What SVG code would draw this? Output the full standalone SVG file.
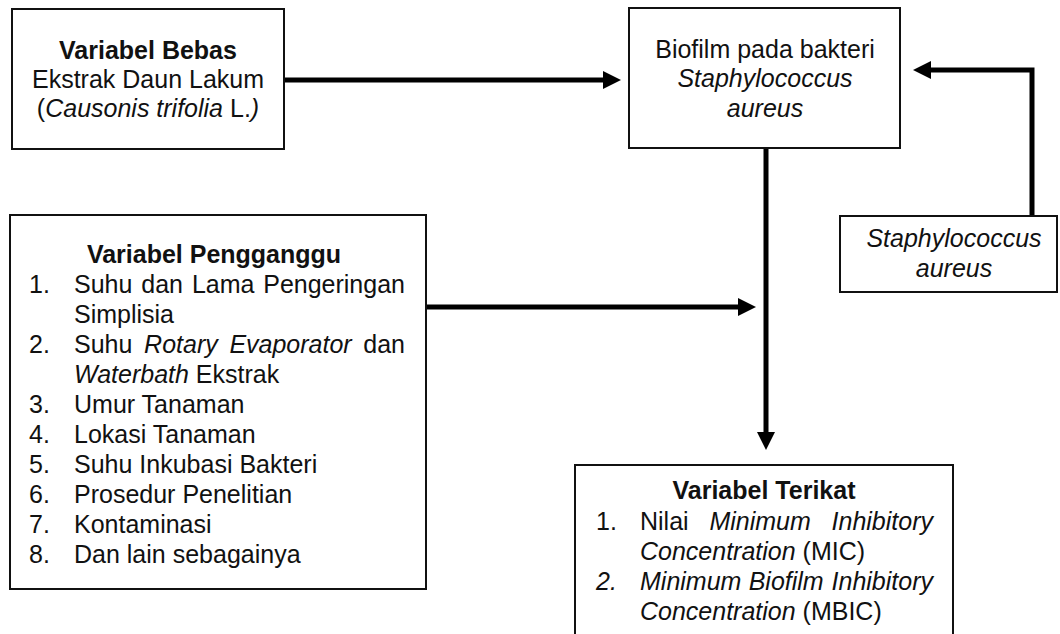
<svg xmlns="http://www.w3.org/2000/svg" width="1060" height="634" viewBox="0 0 1060 634">
<style>
  .box { fill: #fff; stroke: #111; stroke-width: 2; }
  text { font-family: "Liberation Sans", Arial, sans-serif; font-size: 25px; fill: #111; }
  .b { font-weight: bold; }
  .i { font-style: italic; }
  .c { text-anchor: middle; }
  .e { text-anchor: end; }
  .conn { fill: none; stroke: #000; stroke-width: 5; }
</style>
<defs>
  <marker id="ah" markerUnits="userSpaceOnUse" markerWidth="18" markerHeight="18" viewBox="0 0 18 18" refX="0" refY="9" orient="auto">
    <path d="M0,0 L18,9 L0,18 Z" fill="#000"/>
  </marker>
</defs>
<rect width="1060" height="634" fill="#fff"/>

<g id="connectors">
  <path class="conn" d="M284,80 H603" marker-end="url(#ah)"/>
  <path class="conn" d="M1032,216 V70 H931" marker-end="url(#ah)"/>
  <path class="conn" d="M766,148 V432" marker-end="url(#ah)"/>
  <path class="conn" d="M426,307 H738" marker-end="url(#ah)"/>
</g>

<g id="variabel-bebas">
  <rect class="box" x="12" y="9" width="272" height="140"/>
  <text class="c b" x="148" y="59">Variabel Bebas</text>
  <text class="c" x="148" y="88">Ekstrak Daun Lakum</text>
  <text class="c" x="148" y="117">(<tspan class="i">Causonis trifolia</tspan> L.<tspan class="i">)</tspan></text>
</g>

<g id="biofilm">
  <rect class="box" x="629" y="8" width="271" height="140"/>
  <text class="c" x="765" y="58">Biofilm pada bakteri</text>
  <text class="c i" x="765" y="87">Staphylococcus</text>
  <text class="c i" x="765" y="117">aureus</text>
</g>

<g id="staphylococcus">
  <rect class="box" x="840" y="216" width="217" height="76"/>
  <text class="c i" x="954" y="247">Staphylococcus</text>
  <text class="c i" x="954" y="277">aureus</text>
</g>

<g id="variabel-pengganggu">
  <rect class="box" x="10" y="215" width="416" height="374"/>
  <text class="c b" x="214" y="263">Variabel Pengganggu</text>
  <text x="29" y="293">1.</text>
  <text x="74" y="293">Suhu</text>
  <text x="141.3" y="293">dan</text>
  <text x="191.9" y="293">Lama</text>
  <text class="e" x="405" y="293">Pengeringan</text>
  <text x="74" y="323">Simplisia</text>
  <text x="29" y="353">2.</text>
  <text x="74" y="353">Suhu</text>
  <text class="i" x="144.1" y="353">Rotary</text>
  <text class="i" x="229.4" y="353">Evaporator</text>
  <text class="e" x="405" y="353">dan</text>
  <text x="74" y="383"><tspan class="i">Waterbath</tspan> Ekstrak</text>
  <text x="29" y="413">3.</text>
  <text x="74" y="413">Umur Tanaman</text>
  <text x="29" y="443">4.</text>
  <text x="74" y="443">Lokasi Tanaman</text>
  <text x="29" y="473">5.</text>
  <text x="74" y="473">Suhu Inkubasi Bakteri</text>
  <text x="29" y="503">6.</text>
  <text x="74" y="503">Prosedur Penelitian</text>
  <text x="29" y="533">7.</text>
  <text x="74" y="533">Kontaminasi</text>
  <text x="29" y="563">8.</text>
  <text x="74" y="563">Dan lain sebagainya</text>
</g>

<g id="variabel-terikat">
  <rect class="box" x="575" y="465" width="378" height="180"/>
  <text class="c b" x="764" y="499">Variabel Terikat</text>
  <text x="596" y="530">1.</text>
  <text x="640" y="530">Nilai</text>
  <text class="i" x="709.4" y="530">Minimum</text>
  <text class="i e" x="933" y="530">Inhibitory</text>
  <text x="640" y="560"><tspan class="i">Concentration</tspan> (MIC)</text>
  <text class="i" x="596" y="590">2.</text>
  <text class="i" x="640" y="590">Minimum</text>
  <text class="i" x="748.7" y="590">Biofilm</text>
  <text class="i e" x="933" y="590">Inhibitory</text>
  <text x="640" y="620"><tspan class="i">Concentration</tspan> (MBIC)</text>
</g>
</svg>
